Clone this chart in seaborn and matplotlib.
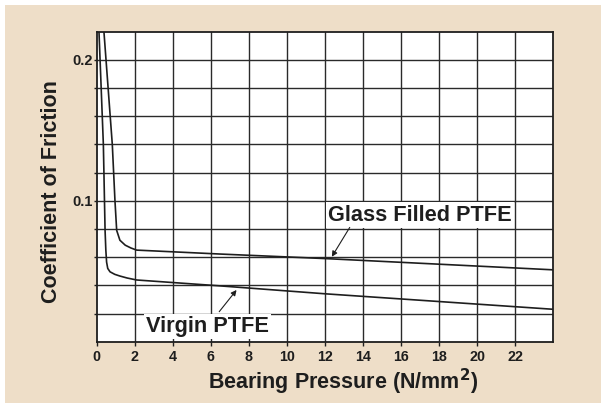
import matplotlib
matplotlib.use("Agg")
import matplotlib.pyplot as plt
import seaborn as sns
import pandas as pd
from matplotlib.patches import Rectangle

# ---- data ----
glass_x = [0.38, 0.82, 0.96, 1.05, 1.22, 1.5, 1.8, 2.1, 6.5, 12, 24]
glass_y = [0.22, 0.14, 0.10, 0.079, 0.072, 0.0685, 0.0665, 0.065, 0.0622, 0.059, 0.051]
virgin_x = [0.12, 0.35, 0.44, 0.48, 0.52, 0.58, 0.70, 0.95, 1.22, 1.6, 2.1, 6.5, 12, 24]
virgin_y = [0.22, 0.14, 0.079, 0.065, 0.0565, 0.052, 0.0496, 0.0478, 0.0466, 0.0452, 0.0438, 0.0396, 0.034, 0.023]
x_ticks = [0, 2, 4, 6, 8, 10, 12, 14, 16, 18, 20, 22]
y_grid = [0.02, 0.04, 0.06, 0.08, 0.10, 0.12, 0.14, 0.16, 0.18, 0.20]
y_labels = ["", "", "", "", "0.1", "", "", "", "", "0.2"]

sns.set_style("white")
plt.rcParams["font.family"] = ["Liberation Sans", "DejaVu Sans"]
plt.rcParams["font.weight"] = "bold"

BEIGE = "#EEDEC8"
INK = "#1e1e1e"

fig = plt.figure(figsize=(6.07, 4.03), dpi=100, facecolor="white")
fig.patches.append(Rectangle((5 / 607, 0), 596 / 607, 398 / 403, transform=fig.transFigure,
                             facecolor=BEIGE, edgecolor="none", zorder=-10))
ax = fig.add_axes([96.7 / 607, 1 - 341.7 / 403, (553.3 - 96.7) / 607, (341.7 - 31.7) / 403])
ax.set_facecolor("white")

df_g = pd.DataFrame({"x": glass_x, "y": glass_y})
df_v = pd.DataFrame({"x": virgin_x, "y": virgin_y})
sns.lineplot(data=df_g, x="x", y="y", ax=ax, sort=False, estimator=None, color=INK, lw=1.2, zorder=3)
sns.lineplot(data=df_v, x="x", y="y", ax=ax, sort=False, estimator=None, color=INK, lw=1.2, zorder=3)

ax.set_xlim(0, 24)
ax.set_ylim(0, 0.22)
ax.set_xticks(x_ticks)
ax.set_xticklabels([str(t) for t in x_ticks], fontsize=10.3, fontweight="bold", color=INK)
ax.set_yticks(y_grid)
ax.set_yticklabels(y_labels, fontsize=10.5, fontweight="bold", color=INK)
ax.tick_params(axis="x", length=3, width=1, color=INK, pad=3, bottom=True)
ax.tick_params(axis="y", length=2.5, width=1, color=INK, pad=0.5, left=True)
for v in x_ticks[1:]:
    ax.axvline(v, color="#2a2a2a", lw=1.0, zorder=1)
for v in y_grid:
    ax.axhline(v, color="#2a2a2a", lw=1.0, zorder=1)
for s in ax.spines.values():
    s.set_color(INK)
    s.set_linewidth(1.3)

ax.set_xlabel("Bearing Pressure (N/mm$^{\\mathbf{2}}$)", fontsize=15.5, fontweight="bold", color=INK)
ax.xaxis.set_label_coords(0.539, -0.082)
ax.set_ylabel("Coefficient of Friction", fontsize=15.5, fontweight="bold", color=INK)
ax.yaxis.set_label_coords(-0.077, 0.485)

bbox = dict(facecolor="white", edgecolor="none", pad=1.5)
ax.text(16.97, 0.0899, "Glass Filled PTFE", fontsize=15.7, fontweight="bold", color=INK,
        ha="center", va="center", bbox=bbox, zorder=4)
ax.text(5.84, 0.0106, "Virgin PTFE", fontsize=15.7, fontweight="bold", color=INK,
        ha="center", va="center", bbox=bbox, zorder=4)
arrow = dict(arrowstyle="-|>", color=INK, lw=0.8, mutation_scale=8, shrinkA=0, shrinkB=0)
ax.annotate("", xy=(12.36, 0.0603), xytext=(13.3, 0.0811), arrowprops=arrow, zorder=4)
ax.annotate("", xy=(7.35, 0.0367), xytext=(6.44, 0.0213), arrowprops=arrow, zorder=4)

fig.savefig("out.png", dpi=100, facecolor=fig.get_facecolor())
